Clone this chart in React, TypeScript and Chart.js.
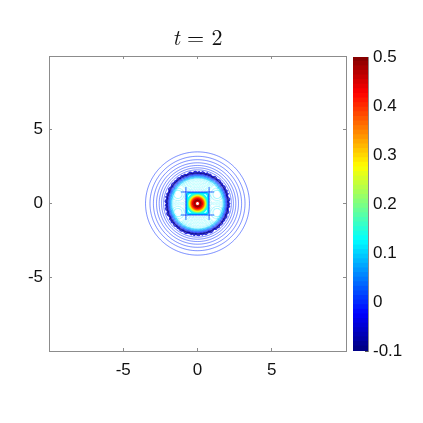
import React, { useEffect, useRef } from "react";
import { Chart, registerables } from "chart.js";

Chart.register(...registerables);

const xyTicks = [-5, 0, 5];
const barTicks = [-0.1, 0, 0.1, 0.2, 0.3, 0.4, 0.5];
const outerRadii = [3.5, 3.2, 2.97, 2.76, 2.58, 2.42, 2.28];
const darkRadii = [2.15, 2.11, 2.08, 2.05];
const darkLevels = [-0.04, -0.08, -0.1, -0.09];
const ringRadii = [2.02, 1.98, 1.94, 1.9, 1.86, 1.82, 1.78, 1.73];
const ringLevels = [-0.06, -0.02, 0.01, 0.03, 0.05, 0.07, 0.085, 0.1];
const interiorRadii = [1.66, 1.58, 1.48, 1.38, 1.28, 1.18, 1.08, 0.98, 0.9];
const interiorLevels = [0.11, 0.115, 0.12, 0.12, 0.125, 0.12, 0.12, 0.11, 0.1];
const patchAngles = [[8, 46], [134, 172], [188, 226], [314, 352]];
const squareRadii = [0.74, 0.71, 0.68];
const squareLevels = [0.09, 0.11, 0.13];
const squareShapes = [10, 8, 5];
const coreRadii = [0.72, 0.68, 0.65, 0.62, 0.59, 0.56, 0.53, 0.5, 0.47, 0.44, 0.41, 0.38, 0.34, 0.3, 0.26, 0.22, 0.18, 0.14];
const coreLevels = [0.13, 0.15, 0.18, 0.21, 0.24, 0.27, 0.3, 0.33, 0.36, 0.38, 0.4, 0.42, 0.44, 0.46, 0.48, 0.5, 0.47, 0.42];
const hashOffsets = [-0.78, 0.78];
const hashReach = [-1.12, 1.12];
const patchLoopX = [-1.32, -1.32, 1.32, 1.32];
const patchLoopY = [0.62, -0.62, 0.62, -0.62];
const patchLoopRadii = [0.42, 0.28];
const wobble = [0.012, -0.02, 0.016, 0.022, -0.014, -0.024, 0.018, -0.01, 0.024, -0.018, 0.01, 0.02, -0.022, 0.014, -0.012, 0.02];
const anglePoints = 121;

function jet(v: number): string {
  const t = Math.min(1, Math.max(0, (v + 0.1) / 0.6));
  const c = (x: number) => Math.round(255 * Math.min(1, Math.max(0, 1.5 - Math.abs(4 * t - x))));
  return `rgb(${c(3)},${c(2)},${c(1)})`;
}

function contour(radius: number, squareness: number, rough: number, gaps: number[][] = [], cx = 0, cy = 0) {
  const pts: ({ x: number; y: number } | { x: null; y: null })[] = [];
  for (let i = 0; i < anglePoints; i++) {
    const deg = (i / (anglePoints - 1)) * 360;
    if (gaps.some(([a, b]) => deg > a && deg < b)) {
      pts.push({ x: null, y: null });
      continue;
    }
    const a = (deg * Math.PI) / 180;
    const p = 2 + squareness;
    const sup = Math.pow(Math.pow(Math.abs(Math.cos(a)), p) + Math.pow(Math.abs(Math.sin(a)), p), -1 / p);
    const r = radius * sup + rough * wobble[i % wobble.length];
    pts.push({ x: cx + r * Math.cos(a), y: cy + r * Math.sin(a) });
  }
  return pts;
}

function line(data: any[], level: number, width: number) {
  return {
    data,
    showLine: true,
    borderColor: jet(level),
    borderWidth: width,
    pointRadius: 0,
    tension: 0.05,
    fill: false,
  };
}

const gray = "#8c8c8c";
const font = { family: "Liberation Sans, Arial", size: 17 };

export default function App() {
  const mainRef = useRef<HTMLCanvasElement>(null);
  const barRef = useRef<HTMLCanvasElement>(null);

  useEffect(() => {
    const hashH = hashOffsets.map((o) => line([{ x: hashReach[0], y: o }, { x: hashReach[1], y: o }], 0.0, 0.9));
    const hashV = hashOffsets.map((o) => line([{ x: o, y: hashReach[0] }, { x: o, y: hashReach[1] }], 0.0, 0.9));
    const loops: any[] = [];
    patchLoopX.forEach((cx, i) => {
      patchLoopRadii.forEach((r) => {
        loops.push(line(contour(r, 0, 1, [], cx, patchLoopY[i]), 0.115, 0.22));
      });
    });
    const datasets = [
      ...outerRadii.map((r) => line(contour(r, 0, 0), 0.0, 0.55)),
      ...darkRadii.map((r, i) => line(contour(r, 0, i < 2 ? 2 : 0.6), darkLevels[i], 0.9)),
      ...ringRadii.map((r, i) => line(contour(r, 0, 0.4), ringLevels[i], 0.7)),
      ...interiorRadii.map((r, i) => line(contour(r, i * 0.2, 1, r > 0.95 && r < 1.6 ? patchAngles : []), interiorLevels[i], 0.25)),
      ...loops,
      ...hashH,
      ...hashV,
      ...squareRadii.map((r, i) => line(contour(r, squareShapes[i], 0), squareLevels[i], 1.2)),
      ...coreRadii.map((r, i) => line(contour(r, 0, 0), coreLevels[i], 1.2)),
    ];
    const ax = (position: string, show: boolean, padding: number) => ({
      type: "linear",
      position,
      min: -10,
      max: 10,
      afterBuildTicks: (s: any) => {
        s.ticks = xyTicks.map((value) => ({ value }));
      },
      border: { display: true, color: gray, width: 1 },
      grid: { drawOnChartArea: false, drawTicks: true, tickLength: -3, color: gray, tickWidth: 1 },
      ticks: { display: show, padding, color: "#111", font, callback: (v: any) => String(v), maxRotation: 0 },
    });
    const main = new Chart(mainRef.current!, {
      type: "scatter",
      data: { datasets: datasets as any },
      options: {
        responsive: false,
        animation: false,
        layout: { padding: 0 },
        plugins: {
          legend: { display: false },
          tooltip: { enabled: false },
          title: { display: false },
        },
        scales: {
          x: { ...ax("bottom", true, 12), afterFit: (s: any) => { s.height = 72; } },
          x2: { ...ax("top", false, 0), afterFit: (s: any) => { s.height = 56; } },
          y: { ...ax("left", true, 9), afterFit: (s: any) => { s.width = 49; } },
          y2: { ...ax("right", false, 0), afterFit: (s: any) => { s.width = 77; } },
        } as any,
      },
    });

    const steps = 64;
    const lows: number[] = [];
    for (let i = 0; i < steps; i++) lows.push(-0.1 + (0.6 * i) / steps);
    const bar = new Chart(barRef.current!, {
      type: "bar",
      data: {
        labels: ["c"],
        datasets: lows.map((lo) => ({
          data: [[lo, lo + 0.6 / steps + 0.001]],
          backgroundColor: jet(lo + 0.3 / steps),
          grouped: false,
          barPercentage: 1,
          categoryPercentage: 1,
          borderWidth: 0,
        })) as any,
      },
      options: {
        responsive: false,
        animation: false,
        layout: { padding: 0 },
        plugins: { legend: { display: false }, tooltip: { enabled: false } },
        scales: {
          x: { display: false, afterFit: (s: any) => { s.height = 72; } },
          t: { position: "top", display: false, afterFit: (s: any) => { s.height = 57; } },
          y: {
            position: "right",
            min: -0.1,
            max: 0.5,
            afterBuildTicks: (s: any) => { s.ticks = barTicks.map((value) => ({ value })); },
            border: { display: true, color: gray },
            grid: { drawOnChartArea: false, tickLength: -3, color: "#555" },
            ticks: { color: "#111", font, padding: 8, callback: (v: any) => String(Math.round(v * 10) / 10) },
            afterFit: (s: any) => { s.width = 55; },
          },
        } as any,
      },
    });
    return () => {
      main.destroy();
      bar.destroy();
    };
  }, []);

  return (
    <div style={{ position: "absolute", left: 0, top: 0, width: 423, height: 423, background: "#fff" }}>
      <canvas ref={mainRef} width={423} height={423} style={{ position: "absolute", left: 0, top: 0 }} />
      <canvas ref={barRef} width={70} height={423} style={{ position: "absolute", left: 353, top: 0 }} />
      <div style={{ position: "absolute", left: 0, width: 395, top: 20, textAlign: "center", fontFamily: "'Latin Modern Roman', 'Liberation Serif', serif", fontSize: 22, color: "#111" }}>
        <i>t</i> = 2
      </div>
    </div>
  );
}
